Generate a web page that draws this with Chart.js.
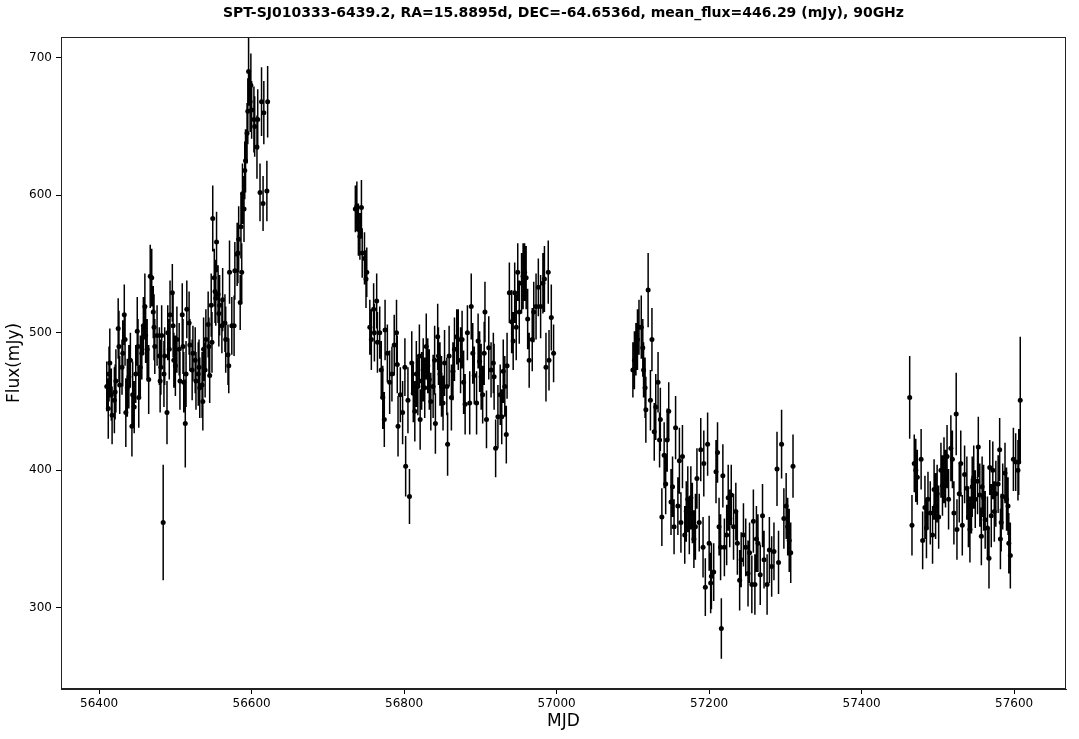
<!DOCTYPE html>
<html>
<head>
<meta charset="utf-8">
<title>SPT-SJ010333-6439.2 light curve</title>
<script src="https://cdn.jsdelivr.net/npm/chart.js@4.4.0/dist/chart.umd.min.js"></script>
<style>
  body { margin: 0; background: #fff; }
  #wrap { width: 1079px; height: 739px; }
</style>
</head>
<body>
<div id="wrap"><canvas id="lc" width="1079" height="739"></canvas></div>
<script>
// observation dates (MJD), four observing seasons
const mjd = [
  // season 1
  56410, 56412, 56413, 56414, 56416, 56417, 56420, 56421, 56422, 56425,
  56426, 56427, 56430, 56431, 56433, 56434, 56435, 56437, 56439, 56441,
  56443, 56444, 56446, 56448, 56450, 56451, 56452, 56454, 56456, 56458,
  56460, 56461, 56463, 56465, 56467, 56469, 56471, 56472, 56473, 56476,
  56479, 56480, 56481, 56482, 56484, 56485, 56486, 56489, 56490, 56492,
  56493, 56496, 56497, 56498, 56500, 56502, 56505, 56506, 56509, 56510,
  56511, 56513, 56514, 56515, 56518, 56519, 56522, 56523, 56526, 56527,
  56530, 56531, 56532, 56535, 56536, 56537, 56539, 56540, 56543, 56544,
  56545, 56547, 56548, 56549, 56551, 56552, 56553, 56554, 56556, 56557,
  56558, 56561, 56562, 56565, 56566, 56569, 56570, 56571, 56574, 56577,
  56578, 56581, 56582, 56583, 56585, 56586, 56587, 56588, 56590, 56591,
  56592, 56594, 56595, 56596, 56598, 56599, 56600, 56603, 56604, 56607,
  56608, 56611, 56613, 56615, 56616, 56620, 56621,
  // season 2
  56736, 56738, 56740, 56742, 56744, 56745, 56748, 56750, 56751, 56755,
  56757, 56760, 56761, 56764, 56765, 56768, 56770, 56772, 56774, 56775,
  56778, 56781, 56784, 56787, 56790, 56791, 56792, 56795, 56798, 56801,
  56802, 56805, 56807, 56810, 56812, 56814, 56816, 56818, 56820, 56821,
  56823, 56825, 56827, 56829, 56831, 56833, 56835, 56838, 56840, 56841,
  56844, 56845, 56847, 56849, 56851, 56853, 56856, 56857, 56859, 56862,
  56864, 56866, 56869, 56871, 56874, 56876, 56878, 56880, 56883, 56886,
  56888, 56890, 56892, 56895, 56897, 56899, 56901, 56903, 56905, 56906,
  56908, 56911, 56914, 56917, 56918, 56920, 56923, 56926, 56928, 56930,
  56932, 56934, 56935, 56938, 56941, 56943, 56945, 56947, 56949, 56951,
  56954, 56956, 56958, 56960, 56962, 56964, 56968, 56970, 56973, 56976,
  56979, 56982, 56984, 56986, 56989, 56990, 56993, 56996,
  // season 3
  57100, 57102, 57104, 57106, 57108, 57111, 57113, 57114, 57116, 57117,
  57120, 57123, 57125, 57128, 57130, 57133, 57135, 57136, 57138, 57141,
  57143, 57145, 57147, 57150, 57152, 57154, 57156, 57159, 57161, 57163,
  57165, 57168, 57170, 57172, 57174, 57176, 57178, 57180, 57182, 57184,
  57187, 57189, 57192, 57193, 57195, 57198, 57200, 57202, 57203, 57206,
  57209, 57211, 57213, 57215, 57216, 57218, 57220, 57223, 57225, 57227,
  57229, 57232, 57235, 57237, 57240, 57242, 57245, 57248, 57251, 57253,
  57256, 57258, 57260, 57262, 57264, 57267, 57270, 57272, 57276, 57279,
  57282, 57285, 57289, 57291, 57295, 57298, 57301, 57303, 57305, 57307,
  57310,
  // season 4
  57463, 57466, 57469, 57471, 57473, 57478, 57480, 57483, 57485, 57487,
  57490, 57493, 57495, 57497, 57499, 57501, 57504, 57506, 57508, 57510,
  57512, 57514, 57517, 57519, 57521, 57524, 57525, 57528, 57530, 57532,
  57535, 57538, 57540, 57542, 57544, 57545, 57547, 57549, 57552, 57553,
  57555, 57557, 57558, 57560, 57562, 57565, 57567, 57568, 57570, 57572,
  57574, 57576, 57579, 57581, 57582, 57583, 57585, 57588, 57590, 57592,
  57593, 57595, 57599, 57602, 57605, 57606, 57608
];

// flux in mJy
const flux = [
  461, 445, 470, 478, 455, 440, 451, 457, 465, 503,
  490, 462, 475, 485, 513, 495, 442, 460, 468, 480,
  432, 455, 446, 470, 501, 490, 453, 475, 485, 505,
  519, 498, 488, 466, 541, 540, 515, 504, 490, 498,
  483, 465, 475, 498, 362, 470, 483, 442, 500, 488,
  513, 529, 505, 480, 476, 495, 488, 465, 513, 490,
  464, 434, 470, 517, 507, 491, 473, 485, 480, 465,
  470, 475, 460, 462, 450, 488, 473, 495, 506, 490,
  469, 520, 493, 583, 540, 530, 525, 566, 528, 514,
  520, 505, 524, 507, 495, 484, 476, 544, 505, 505,
  545, 557, 558, 568, 522, 577, 544, 601, 590, 618,
  625, 645, 661, 690, 668, 680, 662, 655, 650, 635,
  655, 602, 668, 594, 660, 603, 668,

  590, 592, 575, 570, 591, 558, 554, 539, 544, 504,
  495, 517, 500, 523, 493, 500, 473, 453, 437, 502,
  485, 464, 470, 491, 500, 477, 432, 455, 442, 475,
  403, 451, 381, 478, 456, 443, 470, 461, 483, 437,
  465, 473, 460, 490, 476, 466, 450, 461, 480, 434,
  497, 483, 470, 461, 449, 478, 461, 419, 483, 453,
  472, 488, 497, 495, 480, 495, 464, 448, 500, 449,
  519, 485, 469, 449, 494, 479, 468, 455, 485, 515,
  437, 489, 473, 478, 468, 416, 439, 455, 439, 472,
  461, 426, 476, 529, 508, 494, 529, 504, 544, 515,
  536, 541, 544, 540, 510, 480, 495, 515, 519, 533,
  519, 536, 539, 475, 544, 480, 511, 485,

  473, 480, 488, 495, 504, 504, 489, 473, 460, 444,
  531, 451, 495, 428, 446, 464, 422, 437, 366, 411,
  390, 422, 443, 377, 388, 359, 431, 374, 407, 362,
  410, 353, 370, 379, 359, 380, 369, 350, 359, 394,
  362, 415, 344, 405, 315, 419, 347, 318, 323, 326,
  399, 413, 359, 344, 285, 396, 344, 353, 380, 365,
  382, 359, 370, 347, 320, 335, 353, 344, 325, 340,
  317, 363, 317, 350, 347, 324, 367, 335, 317, 342,
  330, 341, 401, 333, 419, 365, 374, 359, 349, 340,
  403,

  453, 360, 405, 400, 395, 408, 349, 373, 358, 379,
  369, 353, 386, 374, 383, 366, 400, 389, 400, 394,
  410, 379, 416, 408, 369, 441, 357, 383, 405, 360,
  397, 387, 366, 357, 374, 388, 395, 379, 392, 417,
  382, 352, 388, 380, 364, 358, 336, 402, 367, 400,
  370, 383, 390, 415, 350, 362, 381, 398, 379, 374,
  347, 338, 408, 406, 400, 406, 451
];

// 1-sigma flux errors in mJy
const fluxErr = [
  18, 22, 20, 25, 19, 21, 24, 20, 23, 22,
  26, 21, 20, 24, 22, 19, 25, 21, 23, 20,
  22, 24, 19, 21, 25, 20, 22, 23, 19, 21,
  24, 20, 22, 25, 23, 21, 19, 24, 20, 22,
  21, 23, 20, 22, 42, 24, 21, 23, 20, 22,
  25, 21, 23, 20, 22, 24, 19, 21, 23, 20,
  22, 32, 24, 21, 23, 19, 22, 20, 24, 21,
  23, 20, 22, 24, 21, 23, 20, 22, 24, 21,
  20, 23, 22, 24, 21, 23, 20, 22, 21, 24,
  22, 20, 23, 21, 24, 22, 20, 23, 21, 22,
  21, 23, 22, 24, 20, 23, 21, 22, 24, 21,
  23, 22, 24, 25, 22, 23, 21, 24, 22, 23,
  22, 21, 25, 20, 23, 22, 26,

  17, 18, 19, 17, 20, 18, 19, 21, 18, 20,
  22, 19, 21, 20, 22, 19, 21, 23, 20, 22,
  21, 23, 20, 22, 24, 21, 22, 20, 23, 21,
  22, 24, 20, 23, 21, 22, 24, 21, 23, 22,
  21, 23, 22, 24, 20, 22, 21, 23, 25, 22,
  24, 21, 23, 22, 20, 24, 21, 23, 22, 24,
  21, 23, 20, 22, 24, 21, 23, 22, 20, 23,
  24, 22, 21, 23, 20, 22, 24, 21, 23, 22,
  21, 23, 20, 22, 24, 21, 23, 22, 20, 23,
  22, 21, 24, 22, 23, 21, 22, 24, 21, 23,
  22, 24, 21, 23, 22, 20, 23, 22, 24, 21,
  23, 22, 24, 25, 23, 22, 24, 21,

  20, 21, 19, 22, 20, 23, 21, 20, 22, 24,
  27, 22, 23, 21, 24, 22, 20, 23, 21, 24,
  22, 23, 21, 24, 22, 20, 23, 21, 24, 22,
  23, 21, 22, 24, 20, 23, 22, 21, 24, 22,
  21, 23, 22, 24, 21, 23, 20, 22, 24, 21,
  23, 22, 21, 24, 22, 23, 21, 22, 24, 21,
  22, 24, 21, 23, 22, 20, 23, 21, 24, 22,
  21, 23, 22, 24, 21, 22, 23, 21, 22, 24,
  22, 21, 27, 23, 25, 22, 24, 21, 23, 22,
  23,

  30, 22, 21, 23, 20, 22, 21, 23, 22, 20,
  23, 21, 22, 24, 21, 23, 20, 22, 24, 21,
  23, 22, 24, 21, 23, 30, 22, 21, 24, 22,
  21, 23, 22, 24, 20, 22, 23, 21, 24, 22,
  23, 21, 22, 24, 21, 23, 22, 20, 23, 21,
  22, 24, 21, 23, 22, 21, 24, 22, 23, 21,
  22, 24, 23, 21, 22, 24, 46
];

const xTicks = [56400, 56600, 56800, 57000, 57200, 57400, 57600];
const yTicks = [300, 400, 500, 600, 700];

const points = mjd.map((x, i) => ({ x: x, y: flux[i] }));

// vertical error bars, drawn under the dots
const errorBars = {
  id: "errorBars",
  beforeDatasetsDraw(chart) {
    const { ctx, chartArea, scales } = chart;
    ctx.save();
    ctx.beginPath();
    ctx.rect(chartArea.left, chartArea.top, chartArea.width, chartArea.height);
    ctx.clip();
    ctx.strokeStyle = "#000";
    ctx.lineWidth = 1.5;
    ctx.beginPath();
    mjd.forEach((x, i) => {
      const px = scales.x.getPixelForValue(x);
      ctx.moveTo(px, scales.y.getPixelForValue(flux[i] - fluxErr[i]));
      ctx.lineTo(px, scales.y.getPixelForValue(flux[i] + fluxErr[i]));
    });
    ctx.stroke();
    ctx.restore();
  },
};

// box round the plot area
const frame = {
  id: "frame",
  afterDraw(chart) {
    const { ctx, chartArea } = chart;
    ctx.save();
    ctx.strokeStyle = "#222";
    ctx.lineWidth = 1;
    ctx.strokeRect(chartArea.left + 0.5, chartArea.top + 0.5, chartArea.width - 1, chartArea.height - 1);
    ctx.restore();
  },
};

const tickFont = { family: "DejaVu Sans", size: 12 };
const labelFont = { family: "DejaVu Sans", size: 17 };

new Chart("lc", {
  type: "scatter",
  data: {
    datasets: [
      {
        data: points,
        pointRadius: 2.5,
        pointHoverRadius: 2.5,
        backgroundColor: "#000",
        borderColor: "#000",
        borderWidth: 0,
      },
    ],
  },
  options: {
    responsive: false,
    animation: false,
    events: [],
    layout: { padding: { left: 0, right: 13, top: 0, bottom: 0 } },
    plugins: {
      legend: { display: false },
      tooltip: { enabled: false },
      title: {
        display: true,
        fullSize: false,
        text: "SPT-SJ010333-6439.2, RA=15.8895d, DEC=-64.6536d, mean_flux=446.29 (mJy), 90GHz",
        color: "#000",
        font: { family: "DejaVu Sans", size: 14, weight: "bold" },
        padding: { top: 5, bottom: 15.2 },
      },
    },
    scales: {
      x: {
        type: "linear",
        min: 56350,
        max: 57668,
        afterBuildTicks: (s) => { s.ticks = xTicks.map((v) => ({ value: v })); },
        afterFit: (s) => { s.height = 50; },
        ticks: {
          color: "#000",
          font: tickFont,
          padding: 3,
          autoSkip: false,
          maxRotation: 0,
          callback: (v) => String(v),
        },
        grid: { drawOnChartArea: false, tickLength: 5, color: "#000" },
        border: { color: "#222" },
        title: { display: true, text: "MJD", color: "#000", font: labelFont, padding: { top: 0, bottom: 7 } },
      },
      y: {
        min: 241,
        max: 715,
        afterBuildTicks: (s) => { s.ticks = yTicks.map((v) => ({ value: v })); },
        afterFit: (s) => { s.width = 61; },
        ticks: {
          color: "#000",
          font: tickFont,
          padding: 4,
          autoSkip: false,
          callback: (v) => String(v),
        },
        grid: { drawOnChartArea: false, tickLength: 5, color: "#000" },
        border: { color: "#222" },
        title: { display: true, text: "Flux(mJy)", color: "#000", font: labelFont, padding: { top: 4, bottom: 0 } },
      },
    },
  },
  plugins: [errorBars, frame],
});
</script>
</body>
</html>
